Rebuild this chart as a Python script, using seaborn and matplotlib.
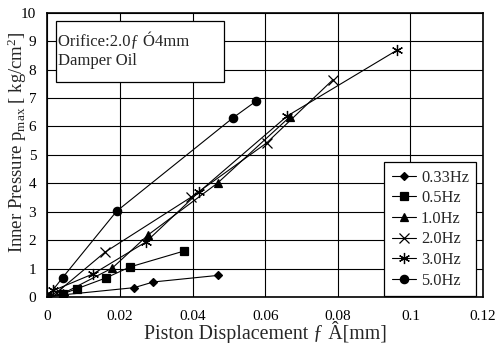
import numpy as np
import pandas as pd
import matplotlib
matplotlib.use("Agg")
import matplotlib.pyplot as plt
from matplotlib.patches import Rectangle
import seaborn as sns

# Данни, отчетени от графиката
freq_labels = ["0.33Hz", "0.5Hz", "1.0Hz", "2.0Hz", "3.0Hz", "5.0Hz"]

x_033 = [0.0, 0.0045, 0.0239, 0.0292, 0.0469]
y_033 = [0.0, 0.08, 0.33, 0.53, 0.76]

x_05 = [0.0, 0.0044, 0.0081, 0.0161, 0.0228, 0.0377]
y_05 = [0.0, 0.12, 0.29, 0.67, 1.06, 1.62]

x_10 = [0.0, 0.0044, 0.0179, 0.0278, 0.0469, 0.0668]
y_10 = [0.0, 0.13, 1.02, 2.19, 4.01, 6.34]

x_20 = [0.0, 0.003, 0.0159, 0.0397, 0.0604, 0.0787]
y_20 = [0.0, 0.2, 1.58, 3.52, 5.42, 7.65]

x_30 = [0.0, 0.0017, 0.0127, 0.0272, 0.0418, 0.0661, 0.0964]
y_30 = [0.0, 0.23, 0.82, 1.94, 3.70, 6.37, 8.69]

x_50 = [0.0, 0.0042, 0.0191, 0.0512, 0.0576]
y_50 = [0.0, 0.68, 3.02, 6.31, 6.90]

xticks = [0, 0.02, 0.04, 0.06, 0.08, 0.1, 0.12]
xtick_labels = ["0", "0.02", "0.04", "0.06", "0.08", "0.1", "0.12"]
yticks = list(range(0, 11))

series_x = [x_033, x_05, x_10, x_20, x_30, x_50]
series_y = [y_033, y_05, y_10, y_20, y_30, y_50]

rows = []
for lab, xs, ys in zip(freq_labels, series_x, series_y):
    for i, (xv, yv) in enumerate(zip(xs, ys)):
        rows.append({"disp": xv, "press": yv, "freq": lab, "idx": i})
df = pd.DataFrame(rows)

sns.set_style("white")
plt.rcParams["font.family"] = ["Liberation Serif", "DejaVu Serif"]
plt.rcParams["mathtext.fontset"] = "custom"
plt.rcParams["mathtext.rm"] = "Liberation Serif"
plt.rcParams["mathtext.it"] = "Liberation Serif:italic"

fig = plt.figure(figsize=(4.96, 3.43), dpi=100)
ax = fig.add_axes([0.0954, 0.134, 0.8786, 0.829])

markers = {"0.33Hz": "D", "0.5Hz": "s", "1.0Hz": "^", "2.0Hz": "x",
           "3.0Hz": (6, 2, 0), "5.0Hz": "o"}
sizes = {"0.33Hz": 4.5, "0.5Hz": 6, "1.0Hz": 6, "2.0Hz": 7, "3.0Hz": 8, "5.0Hz": 6}

for lab in freq_labels:
    sub = df[df["freq"] == lab]
    sns.lineplot(data=sub, x="disp", y="press", ax=ax, sort=False,
                 estimator=None, color="black", linewidth=0.8,
                 marker=markers[lab], markersize=sizes[lab],
                 markeredgecolor="black", markerfacecolor="black",
                 markeredgewidth=0.9, label=lab)

ax.set_xlim(0, 0.12)
ax.set_ylim(0, 10)
ax.set_xticks(xticks)
ax.set_xticklabels(xtick_labels)
ax.set_yticks(yticks)
ax.grid(True, color="black", linewidth=0.8)
ax.set_axisbelow(True)
for sp in ax.spines.values():
    sp.set_color("black")
    sp.set_linewidth(1.2)
ax.tick_params(axis="both", labelsize=11, colors="black", direction="in", length=3)
ax.tick_params(axis="x", pad=9)
ax.tick_params(axis="y", pad=8)

ax.set_xlabel("Piston Displacement ƒ Â[mm]", fontsize=14.3, labelpad=-1)
ax.set_ylabel("Inner Pressure p$_{\\mathrm{max}}$ [ kg/cm$^2$]", fontsize=13.5)
ax.yaxis.set_label_coords(-0.042, 0.545)

# Рамка с описание
ax.add_patch(Rectangle((0.019, 0.756), 0.386, 0.216, transform=ax.transAxes,
                       facecolor="white", edgecolor="black", linewidth=0.9, zorder=5))
ax.text(0.025, 0.898, "Orifice:2.0ƒ Ó4mm", transform=ax.transAxes,
        fontsize=12, va="center", ha="left", zorder=6)
ax.text(0.025, 0.83, "Damper Oil", transform=ax.transAxes,
        fontsize=12, va="center", ha="left", zorder=6)

leg = ax.legend(loc="upper left", bbox_to_anchor=(0.773, 0.474), fontsize=11.8,
                frameon=True, fancybox=False, edgecolor="black", framealpha=1,
                handlelength=1.5, handletextpad=0.3, labelspacing=0.28,
                borderpad=0.45, borderaxespad=0)
leg.get_frame().set_linewidth(0.9)

fig.savefig("out.png", dpi=100)
